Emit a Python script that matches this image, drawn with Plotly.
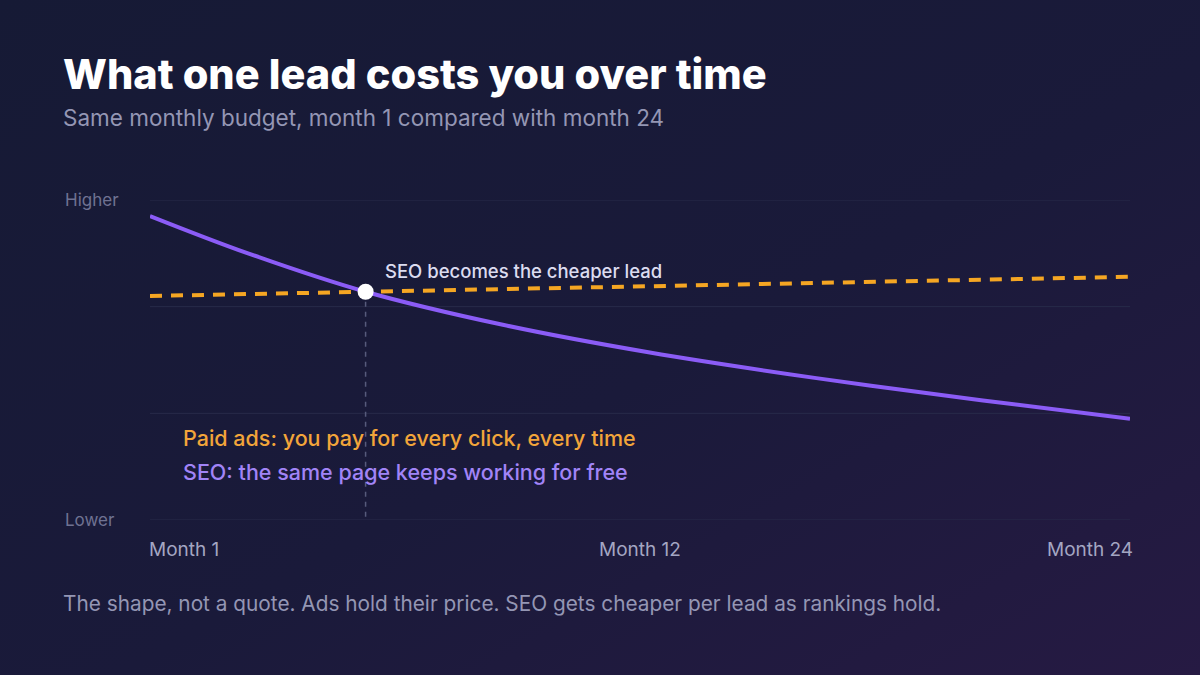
"""Cost per lead over time: paid ads vs SEO, Plotly version."""

import base64

import plotly.graph_objects as go

# timeline position: 0 = month 1, 0.5 = month 12, 1 = month 24
timeline_seo = [0.0, 0.10, 0.22, 0.36, 0.51, 0.68, 0.85, 1.0]
cost_seo = [2.85, 2.50, 2.14, 1.83, 1.57, 1.33, 1.12, 0.95]

timeline_paid = [0.0, 1.0]
cost_paid = [2.10, 2.28]

crossover_x = [0.22]
crossover_y = [2.14]

tick_pos = [0.0, 0.5, 1.0]
tick_text = ["Month 1", "Month 12", "Month 24"]
level_pos = [0, 1, 2, 3]
level_text = ["Lower", "", "", "Higher"]

W, H = 1200, 675
L, R, T, B = 150, 70, 200, 155
PW, PH = W - L - R, H - T - B

FONT = "Inter"
PURPLE = "#8b5cf6"
ORANGE = "#f5a623"
MUTED = "#9496b4"


def px_x(px):
    # annotations carry ~3px of padding, pull them back so text starts where asked
    return (px - 3 - L) / PW


def px_y(py):
    return (H - B - py) / PH


bg_svg = (
    '<svg xmlns="http://www.w3.org/2000/svg" width="1200" height="675">'
    '<defs><linearGradient id="g" x1="0" y1="0" x2="1" y2="1">'
    '<stop offset="0" stop-color="#161a35"/><stop offset="0.55" stop-color="#1a1a3a"/>'
    '<stop offset="1" stop-color="#261a43"/>'
    "</linearGradient></defs>"
    '<rect width="1200" height="675" fill="url(#g)"/></svg>'
)
bg_src = "data:image/svg+xml;base64," + base64.b64encode(bg_svg.encode()).decode()

fig = go.Figure()

fig.add_trace(go.Scatter(
    x=timeline_paid, y=cost_paid, mode="lines",
    line=dict(color=ORANGE, width=4, dash="12px,9px"),
    hoverinfo="skip", showlegend=False,
))
fig.add_trace(go.Scatter(
    x=timeline_seo, y=cost_seo, mode="lines",
    line=dict(color=PURPLE, width=4, shape="spline", smoothing=1.0),
    hoverinfo="skip", showlegend=False,
))
# drop line from the crossover point to the baseline
fig.add_trace(go.Scatter(
    x=[crossover_x[0], crossover_x[0]], y=[crossover_y[0], level_pos[0]], mode="lines",
    line=dict(color="#575b7c", width=1.5, dash="5px,5px"),
    hoverinfo="skip", showlegend=False,
))
fig.add_trace(go.Scatter(
    x=crossover_x, y=crossover_y, mode="markers",
    marker=dict(size=16, color="#ffffff", line=dict(width=0)),
    hoverinfo="skip", showlegend=False, cliponaxis=False,
))

annotations = [
    dict(text="What one lead costs you over time", x=px_x(64), y=px_y(74),
         font=dict(size=41.5, color="#ffffff", family=FONT, weight=800)),
    dict(text="Same monthly budget, month 1 compared with month 24", x=px_x(64), y=px_y(118),
         font=dict(size=22.5, color=MUTED, family=FONT)),
    dict(text="SEO becomes the cheaper lead", x=px_x(386), y=px_y(271),
         font=dict(size=18.5, color="#dcdcf0", family=FONT, weight=500)),
    dict(text="Paid ads: you pay for every click, every time", x=px_x(184), y=px_y(438),
         font=dict(size=21.5, color="#f2a53a", family=FONT, weight=500)),
    dict(text="SEO: the same page keeps working for free", x=px_x(184), y=px_y(472),
         font=dict(size=21.5, color="#a184f7", family=FONT, weight=500)),
    dict(text="The shape, not a quote. Ads hold their price. SEO gets cheaper per lead as rankings hold.",
         x=px_x(64), y=px_y(603), font=dict(size=20.8, color=MUTED, family=FONT)),
]
for a in annotations:
    a.update(xref="paper", yref="paper", xanchor="left", yanchor="middle", showarrow=False)

# axis labels placed by hand so they can be left / right aligned like the original
for pos, txt in zip(level_pos, level_text):
    if txt:
        annotations.append(dict(
            text=txt, xref="paper", yref="y", x=px_x(66), y=pos, xanchor="left", yanchor="middle",
            showarrow=False, font=dict(size=17, color="#6f7292", family=FONT),
        ))
for pos, txt, anchor, shift in zip(tick_pos, tick_text, ["left", "center", "right"], [-3, 0, 5]):
    annotations.append(dict(
        text=txt, xref="x", yref="paper", x=pos, y=px_y(549), xanchor=anchor, yanchor="middle",
        xshift=shift, showarrow=False, font=dict(size=19, color="#a4a6c2", family=FONT),
    ))

# horizontal guides, including the top and bottom edges
shapes = [
    dict(type="line", xref="paper", yref="y", x0=0, x1=1, y0=pos, y1=pos,
         line=dict(color="#282b4a", width=1), layer="below")
    for pos in level_pos
]

fig.update_layout(
    width=W, height=H,
    margin=dict(l=L, r=R, t=T, b=B),
    paper_bgcolor="#191a38",
    plot_bgcolor="rgba(0,0,0,0)",
    font=dict(family=FONT),
    annotations=annotations,
    shapes=shapes,
    images=[dict(
        source=bg_src, xref="paper", yref="paper", x=-L / PW, y=1 + T / PH,
        sizex=W / PW, sizey=H / PH, sizing="stretch", layer="below",
        xanchor="left", yanchor="top",
    )],
    xaxis=dict(range=[0, 1], showgrid=False, zeroline=False, showticklabels=False, fixedrange=True),
    yaxis=dict(range=[0, 3], showgrid=False, showticklabels=False, zeroline=False, fixedrange=True),
)

fig.write_html(
    "out.html",
    config={"displayModeBar": False},
    post_script="document.body.style.margin='0px';",
)
